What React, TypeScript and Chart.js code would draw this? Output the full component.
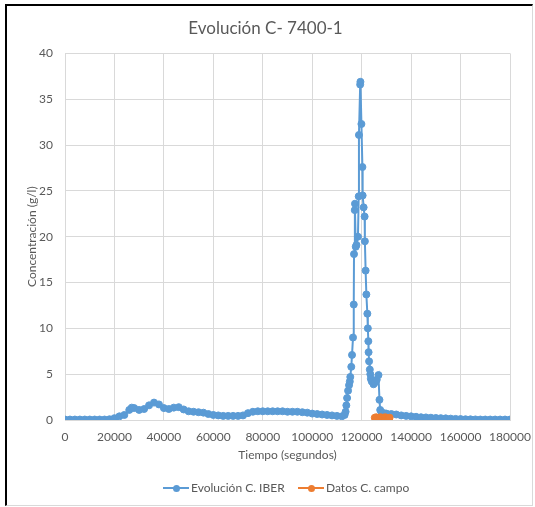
import React, { useEffect, useRef } from "react";
import { Chart, registerables } from "chart.js";

Chart.register(...registerables);

const chartTitle = "Evolución C- 7400-1";
const xAxisTitle = "Tiempo (segundos)";
const yAxisTitle = "Concentración (g/l)";
const seriesNames = ["Evolución C. IBER", "Datos C. campo"];

const xMin = 0;
const xMax = 180000;
const xStep = 20000;
const yMin = 0;
const yMax = 40;
const yStep = 5;

const iberTime = [
  0, 2000, 4000, 6000, 8000, 10000, 12000, 14000, 16000, 18000,
  20000, 22000, 24000, 26000, 27000, 28000, 30000, 32000, 34000, 36000,
  38000, 40000, 42000, 44000, 46000, 48000, 50000, 52000, 54000, 56000,
  58000, 60000, 62000, 64000, 66000, 68000, 70000, 72000, 74000, 76000,
  78000, 80000, 82000, 84000, 86000, 88000, 90000, 92000, 94000, 96000,
  98000, 100000, 102000, 104000, 106000, 108000, 110000, 112000,
  113100, 113500, 113800, 114100, 114500, 114900, 115200, 115400, 115800, 116100,
  116500, 116800, 116900, 117200, 117300, 117600, 117900, 118500, 118800, 118900,
  119400, 119500, 119900, 120300, 120400, 120800, 121200, 121300, 121600, 121900,
  122300, 122500, 122700, 122800, 123000, 123300, 123500, 123700, 124100, 124800,
  125400, 126100, 126800, 127200, 127500, 128100, 129000, 130000, 132000, 134000,
  136000, 138000, 140000, 142000, 144000, 146000, 148000, 150000, 152000, 154000,
  156000, 158000, 160000, 162000, 164000, 166000, 168000, 170000, 172000, 174000,
  176000, 178000, 180000,
];

const iberConc = [
  0.05, 0.05, 0.05, 0.05, 0.05, 0.05, 0.05, 0.05, 0.05, 0.08,
  0.2, 0.4, 0.55, 1.1, 1.35, 1.3, 1.1, 1.2, 1.6, 1.9,
  1.7, 1.3, 1.2, 1.35, 1.4, 1.15, 0.95, 0.9, 0.85, 0.8,
  0.65, 0.55, 0.5, 0.45, 0.45, 0.45, 0.45, 0.5, 0.75, 0.9,
  0.95, 0.95, 0.95, 0.95, 0.95, 0.95, 0.9, 0.9, 0.9, 0.85,
  0.8, 0.7, 0.65, 0.6, 0.55, 0.5, 0.45, 0.4,
  0.55, 0.9, 1.6, 2.4, 3.2, 3.8, 4.2, 4.7, 5.8, 7.1,
  9.0, 12.6, 18.1, 22.9, 23.6, 18.9, 19.1, 20.0, 24.4, 31.1,
  36.6, 36.9, 32.3, 27.6, 24.5, 23.2, 22.2, 19.5, 16.3, 13.7,
  11.6, 10.0, 8.6, 7.4, 6.4, 5.5, 5.0, 4.5, 4.2, 3.9,
  4.1, 4.4, 4.9, 2.2, 1.1, 0.8, 0.75, 0.7, 0.65, 0.6,
  0.5, 0.45, 0.4, 0.35, 0.3, 0.28, 0.25, 0.22, 0.2, 0.18,
  0.15, 0.12, 0.1, 0.08, 0.07, 0.06, 0.05, 0.05, 0.05, 0.05,
  0.05, 0.05, 0.05,
];

const campoTime = [125300, 125900, 126500, 127100, 127700, 128300, 128900, 129500, 130100, 130700, 131300];
const campoConc = [0.25, 0.3, 0.2, 0.25, 0.3, 0.2, 0.25, 0.3, 0.25, 0.2, 0.25];

const BLUE = "#5B9BD5";
const ORANGE = "#ED7D31";
const TEXT = "#595959";
const GRID = "#D9D9D9";
const FONT = "Lato, 'Open Sans', sans-serif";

export default function App() {
  const ref = useRef<HTMLCanvasElement>(null);

  useEffect(() => {
    const canvas = ref.current;
    if (!canvas) return;
    const chart = new Chart(canvas, {
      type: "line",
      data: {
        datasets: [
          {
            label: seriesNames[0],
            data: iberTime.map((t, i) => ({ x: t, y: iberConc[i] })),
            borderColor: BLUE,
            backgroundColor: BLUE,
            pointBackgroundColor: BLUE,
            pointBorderColor: BLUE,
            borderWidth: 2,
            pointRadius: 3.5,
            pointBorderWidth: 1,
            tension: 0,
            order: 1,
          },
          {
            label: seriesNames[1],
            data: campoTime.map((t, i) => ({ x: t, y: campoConc[i] })),
            borderColor: ORANGE,
            backgroundColor: ORANGE,
            pointBackgroundColor: ORANGE,
            pointBorderColor: ORANGE,
            borderWidth: 2,
            pointRadius: 3.5,
            pointBorderWidth: 1,
            tension: 0,
            order: 0,
          },
        ],
      },
      options: {
        responsive: false,
        animation: false,
        layout: { padding: { left: 21, right: 25, top: 0, bottom: 41 } },
        plugins: {
          legend: { display: false },
          tooltip: { enabled: false },
          title: {
            display: true,
            text: chartTitle,
            color: TEXT,
            font: { family: FONT, size: 17, weight: "normal" },
            padding: { top: 18, bottom: 15 },
          },
        },
        scales: {
          x: {
            type: "linear",
            min: xMin,
            max: xMax,
            ticks: {
              stepSize: xStep,
              color: TEXT,
              font: { family: FONT, size: 12 },
              padding: 10,
              maxRotation: 0,
              autoSkip: false,
              callback: (v: any) => String(v),
            },
            grid: { color: GRID, drawTicks: false },
            border: { color: GRID },
            title: {
              display: true,
              text: xAxisTitle,
              color: TEXT,
              font: { family: FONT, size: 12 },
            },
            afterFit: (s: any) => {
              s.height = 46;
              s.paddingLeft = 0;
              s.paddingRight = 0;
            },
          },
          y: {
            type: "linear",
            min: yMin,
            max: yMax,
            ticks: {
              stepSize: yStep,
              color: TEXT,
              font: { family: FONT, size: 12 },
              padding: 12,
            },
            grid: { color: GRID, drawTicks: false },
            border: { display: false },
            title: {
              display: true,
              text: yAxisTitle,
              color: TEXT,
              font: { family: FONT, size: 12 },
            },
            afterFit: (s: any) => {
              s.width = 44;
              s.paddingTop = 0;
              s.paddingBottom = 0;
            },
          },
        },
      },
    });
    return () => chart.destroy();
  }, []);

  const legendText: React.CSSProperties = {
    position: "absolute",
    top: 480,
    fontFamily: FONT,
    fontSize: 12,
    color: TEXT,
    lineHeight: "16px",
    whiteSpace: "nowrap",
  };

  const line = (left: number, color: string): React.CSSProperties => ({
    position: "absolute",
    left,
    top: 487,
    width: 26,
    height: 2,
    background: color,
  });

  const dot = (left: number, color: string): React.CSSProperties => ({
    position: "absolute",
    left,
    top: 484.5,
    width: 7,
    height: 7,
    borderRadius: "50%",
    background: color,
  });

  return (
    <div style={{ position: "absolute", left: 0, top: 0, width: 535, height: 507, background: "#fff", overflow: "hidden" }}>
      <canvas ref={ref} width={535} height={507} style={{ position: "absolute", left: 0, top: 0, width: 535, height: 507 }} />
      <div
        style={{
          position: "absolute",
          left: 5,
          top: 4,
          width: 528,
          height: 502,
          boxSizing: "border-box",
          borderLeft: "2px solid #000",
          borderTop: "2px solid #000",
          borderRight: "1px solid #D9D9D9",
          borderBottom: "1px solid #D9D9D9",
          pointerEvents: "none",
        }}
      />
      <div style={line(163, BLUE)} />
      <div style={dot(172.5, BLUE)} />
      <span style={{ ...legendText, left: 191 }}>{seriesNames[0]}</span>
      <div style={line(298, ORANGE)} />
      <div style={dot(307.5, ORANGE)} />
      <span style={{ ...legendText, left: 326 }}>{seriesNames[1]}</span>
    </div>
  );
}
